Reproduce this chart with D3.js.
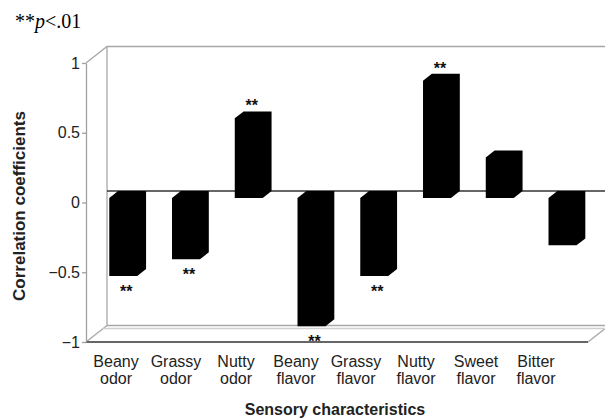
<!DOCTYPE html>
<html>
<head>
<meta charset="utf-8">
<script src="https://cdn.jsdelivr.net/npm/d3@7"></script>
<style>
  body { margin: 0; background: #fff; }
  svg { display: block; font-family: "Liberation Sans", Arial, sans-serif; }
  .wall { stroke: #a8a8a8; stroke-width: 1.3; fill: none; }
  .axis path, .axis line { stroke: #a0a0a0; stroke-width: 1.3; }
  .axis text { font-size: 16px; fill: #222; }
</style>
</head>
<body>
<div id="chartDiv"></div>
<script>
// data
var categories = [["Beany", "odor"], ["Grassy", "odor"], ["Nutty", "odor"], ["Beany", "flavor"],
                  ["Grassy", "flavor"], ["Nutty", "flavor"], ["Sweet", "flavor"], ["Bitter", "flavor"]];
var values = [-0.56, -0.44, 0.57, -0.92, -0.56, 0.84, 0.29, -0.34];
var significant = [true, true, true, true, true, true, false, false];
var yTicks = [-1, -0.5, 0, 0.5, 1];

var SVGwidth = 605;
var SVGheight = 420;

// front plane of the box
var x0 = 86, x1 = 588, yTop = 63, yBot = 342;
// depth of the box (back wall offset)
var depthX = 21, depthY = -16.5;
// bars sit between these depth fractions
var frontD = 0.28, backD = 0.70;

var svg = d3.select("#chartDiv").append("svg")
  .attr("width", SVGwidth)
  .attr("height", SVGheight);

var ids = categories.map(function (c, i) { return i; });

var y = d3.scaleLinear().domain([-1, 1]).range([yBot, yTop]);
var x = d3.scaleBand().domain(ids).range([x0, x1]).paddingInner(0.554).paddingOuter(0.277);
var xLabel = d3.scaleBand().domain(ids).range([x0, 566]);

// box: left wall, back wall, floor
var bx = x0 + depthX, byTop = yTop + depthY, byBot = yBot + depthY;
var wallRight = x1 + depthX;
svg.append("path").attr("class", "wall")
  .attr("d", "M" + x0 + "," + yTop + "L" + bx + "," + byTop + "L" + wallRight + "," + byTop);
svg.append("path").attr("class", "wall")
  .attr("d", "M" + bx + "," + byTop + "L" + bx + "," + byBot + "L" + wallRight + "," + byBot);
svg.append("path").attr("class", "wall")
  .attr("d", "M" + x0 + "," + yBot + "L" + bx + "," + byBot);
svg.append("path").attr("class", "wall")
  .attr("d", "M" + x1 + "," + yBot + "L" + wallRight + "," + byBot);
// thin floor slab edge
svg.append("line").attr("class", "wall")
  .attr("x1", bx - 4).attr("x2", wallRight - 4).attr("y1", byBot + 3).attr("y2", byBot + 3)
  .style("stroke", "#d0d0d0");
svg.append("line")
  .attr("x1", x0).attr("x2", x1).attr("y1", yBot).attr("y2", yBot)
  .style("stroke", "#333").style("stroke-width", 1.3);

// zero line on the back of the bars
var zeroY = y(0) + depthY * backD;
svg.append("line")
  .attr("x1", bx).attr("x2", SVGwidth).attr("y1", zeroY).attr("y2", zeroY)
  .style("stroke", "#333").style("stroke-width", 1.5);

// y axis
svg.append("g")
  .attr("class", "axis")
  .attr("transform", "translate(" + x0 + ",0)")
  .call(d3.axisLeft(y).tickValues(yTicks).tickSize(4).tickSizeOuter(0).tickPadding(2)
    .tickFormat(d3.format("")));

// 3D bars drawn as silhouettes
var fdx = depthX * frontD, fdy = depthY * frontD;
var ddx = depthX * (backD - frontD), ddy = depthY * (backD - frontD);

function barPath(v, i) {
  var l = x(i) + fdx, r = l + x.bandwidth();
  var a = y(0) + fdy, b = y(v) + fdy;
  var top = Math.min(a, b), bot = Math.max(a, b);
  return "M" + l + "," + top +
    "L" + (l + ddx) + "," + (top + ddy) +
    "L" + (r + ddx) + "," + (top + ddy) +
    "L" + (r + ddx) + "," + (bot + ddy) +
    "L" + r + "," + bot +
    "L" + l + "," + bot + "Z";
}

svg.selectAll(".bar")
  .data(values)
  .enter().append("path")
  .attr("class", "bar")
  .attr("d", barPath)
  .style("fill", "#000");

// significance marks
svg.selectAll(".sig")
  .data(values)
  .enter().append("text")
  .filter(function (d, i) { return significant[i]; })
  .attr("class", "sig")
  .attr("x", function (d, i) { return x(i) + fdx + x.bandwidth() / 2 + 3; })
  .attr("y", function (d) {
    var c = d < 0 ? y(d) + fdy + 12 : y(d) + fdy + ddy - 9;
    return c + 9;
  })
  .attr("text-anchor", "middle")
  .style("font-size", "16px")
  .style("font-weight", "bold")
  .style("fill", "#111")
  .text("**");

// category labels
var lab = svg.selectAll(".xlab")
  .data(categories)
  .enter().append("text")
  .attr("class", "xlab")
  .attr("text-anchor", "middle")
  .style("font-size", "16px")
  .style("fill", "#222");
lab.append("tspan")
  .attr("x", function (d, i) { return xLabel(i) + xLabel.bandwidth() / 2; })
  .attr("y", 367)
  .text(function (d) { return d[0]; });
lab.append("tspan")
  .attr("x", function (d, i) { return xLabel(i) + xLabel.bandwidth() / 2; })
  .attr("y", 384)
  .text(function (d) { return d[1]; });

// axis titles
svg.append("text")
  .attr("x", 335).attr("y", 415)
  .attr("text-anchor", "middle")
  .style("font-size", "16px")
  .style("font-weight", "bold")
  .style("fill", "#222")
  .text("Sensory characteristics");

svg.append("text")
  .attr("transform", "translate(25,206) rotate(-90)")
  .attr("text-anchor", "middle")
  .style("font-size", "17px")
  .style("font-weight", "bold")
  .style("fill", "#222")
  .text("Correlation coefficients");

// note
var note = svg.append("text")
  .attr("x", 15).attr("y", 28)
  .style("font-family", "'Liberation Serif', 'Times New Roman', serif")
  .style("font-size", "20px")
  .style("fill", "#000");
note.append("tspan").text("**");
note.append("tspan").style("font-style", "italic").text("p");
note.append("tspan").text("<.01");
</script>
</body>
</html>
